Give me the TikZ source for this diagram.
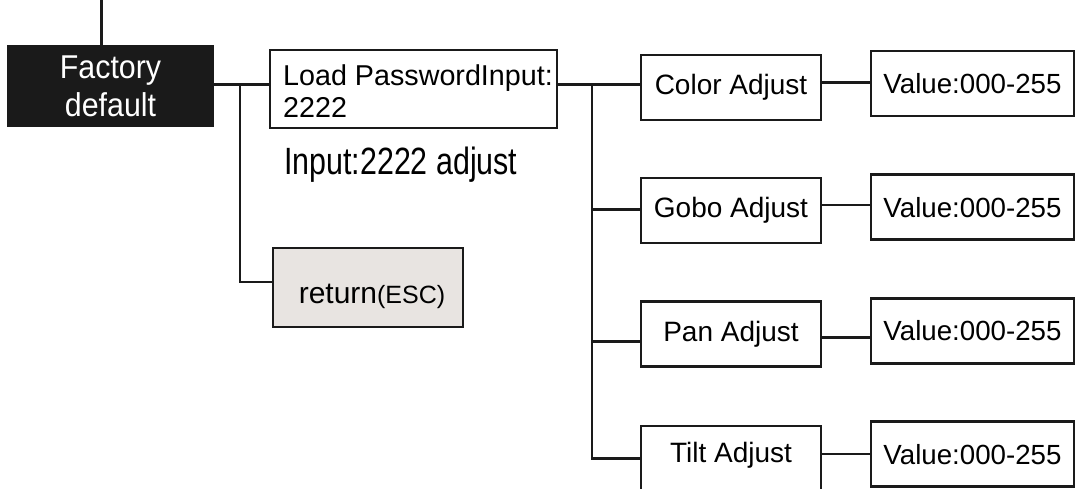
\documentclass[tikz,border=0pt]{standalone}
\usepackage{fontspec}
\setmainfont{Liberation Sans}
\newfontfamily\factfont[FakeStretch=0.92]{Liberation Sans}
\newfontfamily\narrowfont[FakeStretch=0.8]{Liberation Sans}
\definecolor{retgray}{HTML}{E8E4E1}
\definecolor{ink}{HTML}{1A1A1A}
\begin{document}
\begin{tikzpicture}[x=1pt,y=-1pt,
  ln/.style={line width=2.7pt, draw=ink},
  box/.style={ln, rectangle, inner sep=0pt, fill=white, font=\fontsize{28}{32}\selectfont},
  adj/.style={box, minimum width=180pt, minimum height=65pt},
  val/.style={box, minimum width=203pt, minimum height=65pt, font=\fontsize{27.7}{32}\selectfont}]
\useasboundingbox (0,0) rectangle (1077,488);

% left part
\node[box, fill=ink, text=white, minimum width=205pt, minimum height=80pt, align=center,
      font=\factfont\fontsize{33}{38}\selectfont] (factory) at (110.5,86) {Factory\\default};
\node[box, minimum width=287pt, minimum height=78pt] (load) at (413.5,89) {};
\node[anchor=base west, inner sep=0pt, font=\fontsize{28.7}{32}\selectfont] (loadtxta) at (283,85) {Load PasswordInput:};
\node[anchor=base west, inner sep=0pt, font=\fontsize{28.7}{32}\selectfont] (loadtxtb) at (283,117) {2222};
\node[anchor=base west, inner sep=0pt, font=\narrowfont\fontsize{38}{40}\selectfont] (inputtxt) at (284,174) {Input:2222 adjust};
\node[box, fill=retgray, minimum width=190pt, minimum height=79pt] (ret) at (368,287.5) {};
\node[anchor=base, inner sep=0pt] (rettxt) at (372,303) {{\fontsize{30}{32}\selectfont return}{\fontsize{25}{28}\selectfont (ESC)}};

% middle column
\node[adj] (color) at (731,87.5) {Color Adjust};
\node[adj] (gobo) at (731,210.5) {Gobo Adjust};
\node[adj] (pan) at (731,334.2) {Pan Adjust};
\node[adj, text height=20pt, text depth=13pt] (tilt) at (731,458.5) {Tilt Adjust};

% value column
\node[val] (v1) at (972.5,83.5) {Value:000-255};
\node[val] (v2) at (972.5,207.2) {Value:000-255};
\node[val] (v3) at (972.5,330.8) {Value:000-255};
\node[val] (v4) at (972.5,454.2) {Value:000-255};

% connectors
\coordinate (topend) at (101.8,0);
\draw[ln] (topend) -- (topend |- factory.north);
\coordinate (j1) at (240,84.3);
\draw[ln] (factory.east |- j1) -- (load.west |- j1);
\coordinate (j2) at (240,282);
\draw[ln] (j1) -- (j2) -- (j2 -| ret.west);

\coordinate (t0) at (592,84.3);
\coordinate (b2) at (592,209.3);
\coordinate (b3) at (592,341.7);
\coordinate (b4) at (592,458.3);
\draw[ln] (load.east |- t0) -- (color.west |- t0);
\draw[ln] (t0) -- (b4) -- (b4 -| tilt.west);
\draw[ln] (b2) -- (b2 -| gobo.west);
\draw[ln] (b3) -- (b3 -| pan.west);

\coordinate (h1) at (846,82.3);
\coordinate (h2) at (846,205);
\coordinate (h3) at (846,337.7);
\coordinate (h4) at (846,454);
\draw[ln] (h1 -| color.east) -- (h1 -| v1.west);
\draw[ln] (h2 -| gobo.east) -- (h2 -| v2.west);
\draw[ln] (h3 -| pan.east) -- (h3 -| v3.west);
\draw[ln] (h4 -| tilt.east) -- (h4 -| v4.west);
\end{tikzpicture}
\end{document}
